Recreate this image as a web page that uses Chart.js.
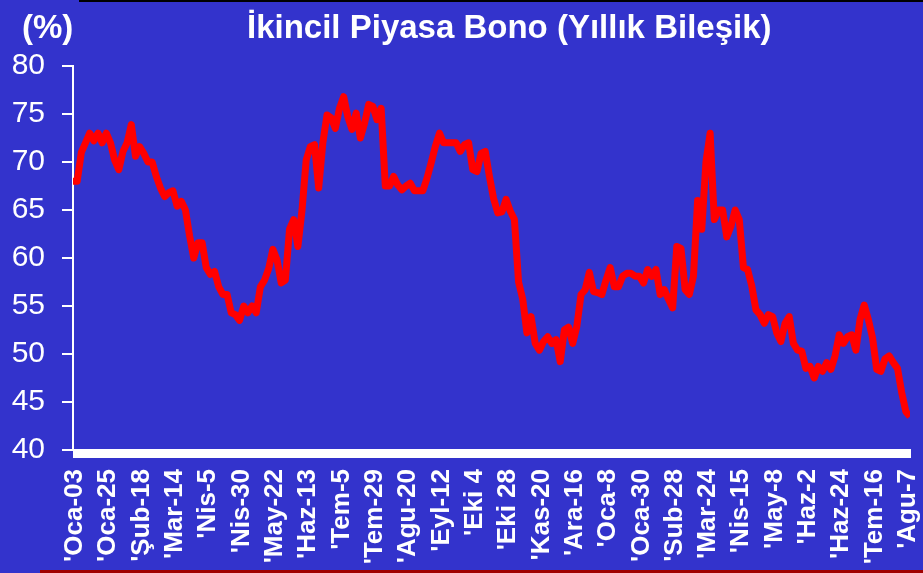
<!DOCTYPE html>
<html>
<head>
<meta charset="utf-8">
<script src="https://cdn.jsdelivr.net/npm/chart.js@4.4.1/dist/chart.umd.min.js"></script>
<style>
  html, body { margin: 0; padding: 0; background: #3333cc; }
  #wrap { position: relative; width: 923px; height: 573px; overflow: hidden; }
  #topRule { position: absolute; left: 79px; top: 0; width: 844px; height: 2px; background: #000; }
  #bottomRule { position: absolute; left: 40px; top: 570px; width: 883px; height: 3px; background: #a00000; }
</style>
</head>
<body>
<div id="wrap">
  <canvas id="bondChart" width="923" height="573"></canvas>
  <div id="topRule"></div>
  <div id="bottomRule"></div>
</div>
<script>
// Tick labels on the date axis (one every 16 trading days)
const dateLabels = [
  "'Oca-03", "'Oca-25", "'Şub-18", "'Mar-14", "'Nis-5", "'Nis-30", "'May-22",
  "'Haz-13", "'Tem-5", "'Tem-29", "'Agu-20", "'Eyl-12", "'Eki 4", "'Eki 28",
  "'Kas-20", "'Ara-16", "'Oca-8", "'Oca-30", "'Sub-28", "'Mar-24", "'Nis-15",
  "'May-8", "'Haz-2", "'Haz-24", "'Tem-16", "'Agu-7"
];

// Points between two labels (one point every 2 trading days)
const pointsPerLabel = 8;

// Secondary market bond yield, compound annual (%)
const yields = [
  68, 68, 71, 72, 73, 72.2, 73, 72,
  73, 72, 70.2, 69.2, 71.1, 72, 73.9, 70.6,
  71.6, 70.9, 70, 70, 68.5, 67.3, 66.4, 66.8,
  67, 65.4, 65.9, 65, 62.3, 60, 61.6, 61.6,
  59, 58.3, 58.6, 57, 56.2, 56.2, 54.3, 54.1,
  53.5, 55, 54.3, 55, 54.3, 57, 57.7, 58.9,
  60.9, 59.8, 57.4, 57.7, 63, 64, 61.2, 65,
  70.2, 71.6, 71.8, 67.3, 72, 74.9, 74.6, 73.5,
  75.6, 76.8, 74.7, 73.4, 75.1, 72.5, 74, 76,
  75.8, 74.4, 75.6, 67.5, 67.5, 68.5, 67.6, 67.1,
  67.5, 67.8, 67, 67, 67, 68.3, 69.9, 71.6,
  73, 72, 72, 72, 72, 71.1, 71.8, 72,
  69.2, 69, 70.9, 71.1, 68.5, 66.2, 64.7, 64.8,
  66.1, 64.9, 64, 57.5, 55.7, 52.2, 53.9, 51.1,
  50.4, 51.3, 51.8, 51.1, 51.5, 49.2, 52.5, 52.8,
  51.1, 52.9, 56.2, 56.7, 58.5, 56.5, 56.4, 56.2,
  57.7, 59, 57, 57, 58.1, 58.4, 58.4, 58.1,
  58.1, 57.4, 58.8, 58.1, 58.8, 56.2, 56.7, 55.7,
  54.8, 61.2, 61, 56.7, 56.2, 58.1, 66, 63,
  70, 73, 64, 65, 65, 62.2, 63.3, 65,
  64, 59, 58.8, 57.1, 54.6, 54.1, 53.2, 54.1,
  53.9, 52.2, 51.3, 53.2, 53.9, 51.1, 50.4, 50.3,
  48.5, 48.7, 47.5, 48.7, 48.2, 49.1, 48.4, 49.8,
  52, 51.1, 51.8, 52, 50.4, 53.6, 55.1, 53.6,
  51.7, 48.4, 48.2, 49.5, 49.8, 49.1, 48.5, 46,
  44, 43.5
];

const yMin = 40;
const yMax = 80;
const yStep = 5;

const titleText = 'İkincil Piyasa Bono (Yıllık Bileşik)';
const unitText = '(%)';

const fontFamily = "'Liberation Sans', Arial, sans-serif";

// Title, unit and the thick white base line under the plot
const decorPlugin = {
  id: 'decor',
  beforeDatasetsDraw(chart) {
    const { ctx, chartArea } = chart;
    ctx.save();
    ctx.fillStyle = '#ffffff';
    ctx.fillRect(chartArea.left, chartArea.bottom - 1, chartArea.right - chartArea.left + 1, 9);
    ctx.restore();
  },
  afterDraw(chart) {
    const { ctx } = chart;
    ctx.save();
    ctx.fillStyle = '#ffffff';
    ctx.textBaseline = 'alphabetic';
    ctx.textAlign = 'left';
    ctx.font = 'bold 33px ' + fontFamily;
    ctx.fillText(unitText, 22, 38);
    ctx.fillText(titleText, 247, 38);
    ctx.restore();
  }
};

const ctx = document.getElementById('bondChart').getContext('2d');
const bondChart = new Chart(ctx, {
  type: 'line',
  data: {
    datasets: [{
      label: titleText,
      data: yields.map((v, i) => ({ x: i, y: v })),
      borderColor: '#ff0000',
      borderWidth: 7,
      borderJoinStyle: 'round',
      pointRadius: 0,
      tension: 0,
      fill: false
    }]
  },
  options: {
    responsive: false,
    devicePixelRatio: 1,
    animation: false,
    layout: {
      padding: { top: 66, right: 13, left: 0, bottom: 0 }
    },
    plugins: {
      legend: { display: false },
      tooltip: { enabled: false }
    },
    scales: {
      x: {
        type: 'linear',
        min: 0,
        max: yields.length - 1,
        afterFit: (axis) => {
          axis.height = 123;
          axis.paddingLeft = 0;
          axis.paddingRight = 0;
        },
        grid: { display: false },
        border: { display: false },
        ticks: {
          stepSize: pointsPerLabel,
          includeBounds: false,
          autoSkip: false,
          maxRotation: 90,
          minRotation: 90,
          padding: 11,
          labelOffset: 2,
          color: '#ffffff',
          font: { family: fontFamily, size: 26, weight: 'bold' },
          callback: (v) => dateLabels[v / pointsPerLabel] || ''
        }
      },
      y: {
        min: yMin,
        max: yMax,
        afterFit: (axis) => {
          axis.width = 73;
          axis.paddingTop = 0;
          axis.paddingBottom = 0;
        },
        grid: {
          drawOnChartArea: false,
          color: '#ffffff',
          lineWidth: 2,
          tickLength: 11
        },
        border: { color: '#ffffff', width: 2 },
        ticks: {
          stepSize: yStep,
          padding: 17,
          color: '#ffffff',
          font: { family: fontFamily, size: 30 }
        }
      }
    }
  },
  plugins: [decorPlugin]
});
</script>
</body>
</html>
